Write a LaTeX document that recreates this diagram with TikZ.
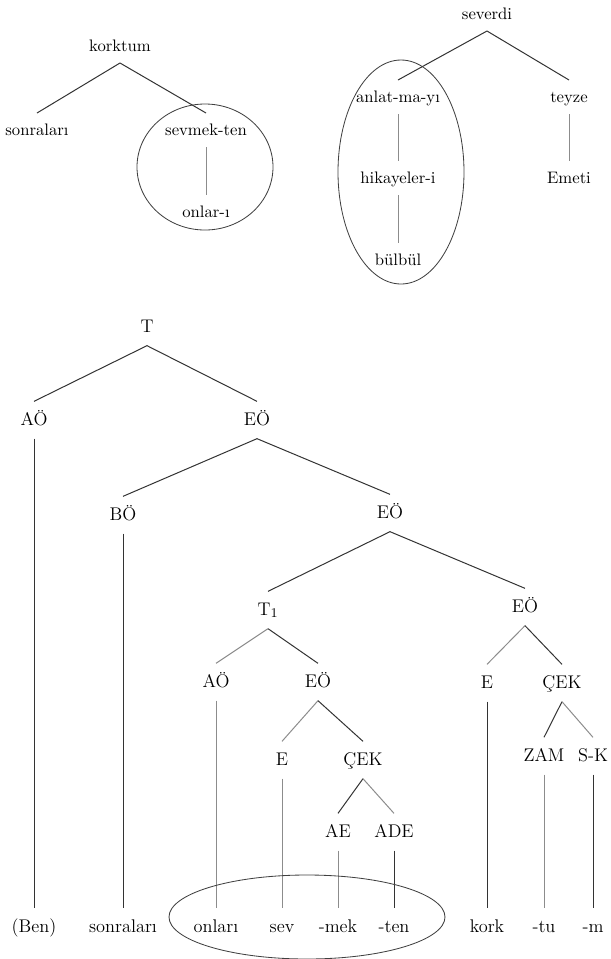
\documentclass[tikz,border=0pt]{standalone}
\usepackage{fontspec}
\usepackage{amsmath}
\usepackage{tikz}

\tikzset{
  word/.style={inner xsep=1pt, inner ysep=6pt, text height=8pt, text depth=2pt,
    font=\fontsize{11}{13}\selectfont},
  smallword/.style={word, inner ysep=5pt, font=\fontsize{10}{12}\selectfont},
  branch/.style={draw=black!80, line width=0.6pt},
  faint/.style={draw=black!45, line width=0.6pt},
  ring/.style={draw=black!75, line width=0.5pt}
}

\begin{document}
\begin{tikzpicture}[x=0.6pt, y=-0.6pt]
  \useasboundingbox (0,0) rectangle (610,959);

  % first small tree
  \node [smallword] (korktum) at (120,46) {korktum};
  \node [smallword] (sonralariA) at ([shift={(-83,84)}]korktum) {sonraları};
  \node [smallword] (sevmekten) at ([shift={(86,84)}]korktum) {sevmek-ten};
  \node [smallword] (onlariA) at ([shift={(0,82)}]sevmekten) {onlar-ı};
  \draw [branch] (korktum.south) -- (sonralariA.north);
  \draw [branch] (korktum.south) -- (sevmekten.north);
  \draw [faint] (sevmekten) -- (onlariA);
  \draw [ring] (205,167) ellipse [x radius=68, y radius=63];

  % second small tree
  \node [smallword] (severdi) at (487,14) {severdi};
  \node [smallword] (anlatmayi) at ([shift={(-89,83)}]severdi) {anlat-ma-yı};
  \node [smallword] (teyze) at ([shift={(82,83)}]severdi) {teyze};
  \node [smallword] (hikayeler) at ([shift={(0,81)}]anlatmayi) {hikayeler-i};
  \node [smallword] (emeti) at ([shift={(0,81)}]teyze) {Emeti};
  \node [smallword] (bulbul) at ([shift={(0,82)}]hikayeler) {bülbül};
  \draw [branch] (severdi.south) -- (anlatmayi.north);
  \draw [branch] (severdi.south) -- (teyze.north);
  \draw [faint] (anlatmayi) -- (hikayeler);
  \draw [faint] (hikayeler) -- (bulbul);
  \draw [faint] (teyze) -- (emeti);
  \draw [ring] (401,172) ellipse [x radius=63, y radius=112];

  % big tree
  \node [word] (T) at (147,327) {T};
  \node [word] (aoA) at ([shift={(-113,93)}]T) {AÖ};
  \node [word] (eoA) at ([shift={(110,93)}]T) {EÖ};
  \node [word] (boA) at ([shift={(-134,95)}]eoA) {BÖ};
  \node [word] (eoB) at ([shift={(133,93)}]eoA) {EÖ};
  \node [word] (tBir) at ([shift={(-122,97)}]eoB) {$\mathrm{T}_1$};
  \node [word] (eoC) at ([shift={(135,94)}]eoB) {EÖ};
  \node [word] (aoB) at ([shift={(-52,72)}]tBir) {AÖ};
  \node [word] (eoD) at ([shift={(50,72)}]tBir) {EÖ};
  \node [word] (eA) at ([shift={(-36,78)}]eoD) {E};
  \node [word] (cekA) at ([shift={(45,78)}]eoD) {ÇEK};
  \node [word] (ae) at ([shift={(-25,72)}]cekA) {AE};
  \node [word] (ade) at ([shift={(31,72)}]cekA) {ADE};
  \node [word] (eB) at ([shift={(-38,76)}]eoC) {E};
  \node [word] (cekB) at ([shift={(37,76)}]eoC) {ÇEK};
  \node [word] (zam) at ([shift={(-18,73)}]cekB) {ZAM};
  \node [word] (sk) at ([shift={(31,73)}]cekB) {S-K};

  % words on the last line
  \node [word] (ben) at (aoA |- 0,927) {(Ben)};
  \node [word] (sonralariB) at (boA |- 0,927) {sonraları};
  \node [word] (onlari) at (aoB |- 0,927) {onları};
  \node [word] (sev) at (eA |- 0,927) {sev};
  \node [word] (mek) at (ae |- 0,927) {-mek};
  \node [word] (ten) at (ade |- 0,927) {-ten};
  \node [word] (kork) at (eB |- 0,927) {kork};
  \node [word] (tu) at (zam |- 0,927) {-tu};
  \node [word] (mm) at (sk |- 0,927) {-m};

  \draw [branch] (T.south) -- (aoA.north);
  \draw [branch] (T.south) -- (eoA.north);
  \draw [branch] (eoA.south) -- (boA.north);
  \draw [branch] (eoA.south) -- (eoB.north);
  \draw [branch] (eoB.south) -- (tBir.north);
  \draw [branch] (eoB.south) -- (eoC.north);
  \draw [faint] (tBir.south) -- (aoB.north);
  \draw [branch] (tBir.south) -- (eoD.north);
  \draw [faint] (eoD.south) -- (eA.north);
  \draw [branch] (eoD.south) -- (cekA.north);
  \draw [branch] (cekA.south) -- (ae.north);
  \draw [faint] (cekA.south) -- (ade.north);
  \draw [faint] (eoC.south) -- (eB.north);
  \draw [branch] (eoC.south) -- (cekB.north);
  \draw [branch] (cekB.south) -- (zam.north);
  \draw [faint] (cekB.south) -- (sk.north);

  \draw [branch] (aoA) -- (ben);
  \draw [branch] (boA) -- (sonralariB);
  \draw [faint] (aoB) -- (onlari);
  \draw [faint] (eA) -- (sev);
  \draw [faint] (ae) -- (mek);
  \draw [branch] (ade) -- (ten);
  \draw [branch] (eB) -- (kork);
  \draw [faint] (zam) -- (tu);
  \draw [branch] (sk) -- (mm);

  \draw [ring] (307,917) ellipse [x radius=138, y radius=42];
\end{tikzpicture}
\end{document}
